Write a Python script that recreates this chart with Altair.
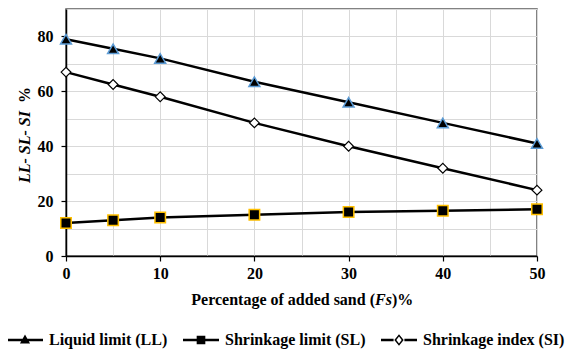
import altair as alt
import pandas as pd

# ---- data ----
fs = [0, 5, 10, 20, 30, 40, 50]
ll = [79, 75.5, 72, 63.5, 56, 48.5, 41]
sl = [12, 13, 14, 15, 16, 16.5, 17]
si = [67, 62.5, 58, 48.5, 40, 32, 24]
series_names = ["Liquid limit (LL)", "Shrinkage limit (SL)", "Shrinkage index (SI)"]
x_ticks = [0, 5, 10, 15, 20, 25, 30, 35, 40, 45, 50]
y_ticks = [0, 10, 20, 30, 40, 50, 60, 70, 80, 90]
x_title_parts = ["Percentage of added sand (", "Fs", ")%"]
y_title_parts = ["LL- SL- SI", "%"]

rows = []
for name, vals in zip(series_names, [ll, sl, si]):
    for x, v in zip(fs, vals):
        rows.append({"series": name, "fs": x, "val": v})
df = pd.DataFrame(rows)

FONT = "Liberation Serif, Times New Roman, DejaVu Serif, serif"
W, H = 471, 247

xenc = alt.X(
    "fs:Q",
    scale=alt.Scale(domain=[0, 50], nice=False),
    axis=alt.Axis(
        values=x_ticks, title=None,
        labelExpr="datum.value % 10 == 0 ? datum.label : ''",
        tickOpacity={"expr": "datum.value % 10 == 0 ? 1 : 0"},
        labelFlush=False, labelOverlap=False, labelPadding=4, tickSize=5,
    ),
)
yenc = alt.Y(
    "val:Q",
    scale=alt.Scale(domain=[0, 90], nice=False),
    axis=alt.Axis(
        values=y_ticks, title=None,
        labelExpr="datum.value % 20 == 0 ? datum.label : ''",
        tickOpacity={"expr": "datum.value % 20 == 0 && datum.value < 90 ? 1 : 0"},
        labelFlush=False, labelOverlap=False, labelPadding=8, tickSize=5,
    ),
)

base = alt.Chart(df).encode(x=xenc, y=yenc)

lines = base.mark_line(color="black", strokeWidth=2.5).encode(detail="series:N")

pts_ll = base.transform_filter(alt.datum.series == series_names[0]).mark_point(
    shape="triangle-up", filled=True, fill="black", stroke="#5b9bd5",
    strokeWidth=1.5, size=120, opacity=1)
pts_sl = base.transform_filter(alt.datum.series == series_names[1]).mark_point(
    shape="square", filled=True, fill="black", stroke="#ffc000",
    strokeWidth=1.5, size=110, opacity=1)
pts_si = base.transform_filter(alt.datum.series == series_names[2]).mark_point(
    shape="diamond", filled=True, fill="white", stroke="black",
    strokeWidth=1.2, size=95, opacity=1)

line_path = "M-1,-0.07H1V0.07H-1Z"
p_ll = line_path + "M0,-0.3L0.28,0.2L-0.28,0.2Z"
p_sl = line_path + "M-0.24,-0.24H0.24V0.24H-0.24Z"
p_si = ("M-1,-0.07H-0.3V0.07H-1Z M0.3,-0.07H1V0.07H0.3Z"
        "M0,-0.32L0.26,0L0,0.32L-0.26,0Z M0,-0.2L-0.15,0L0,0.2L0.15,0Z")

legend_layer = base.mark_point(filled=True, color="black", opacity=0, strokeWidth=0).encode(
    shape=alt.Shape(
        "series:N",
        scale=alt.Scale(domain=series_names, range=[p_ll, p_sl, p_si]),
        legend=alt.Legend(
            title=None, orient="none", legendX=-59, legendY=313,
            direction="horizontal", symbolSize=1296, symbolOpacity=1,
            symbolFillColor="black", symbolStrokeWidth=0,
            labelFont=FONT, labelFontSize=16, labelFontWeight="bold",
            labelColor="black", labelOffset=6, columnPadding=15,
            padding=0, labelLimit=0,
        ),
    )
)

def txt(s, x, y, align, style="normal", angle=0):
    return alt.Chart(pd.DataFrame({"t": [s]})).mark_text(
        font=FONT, fontSize=16, fontWeight="bold", fontStyle=style,
        align=align, baseline="middle", angle=angle, color="black",
    ).encode(x=alt.value(x), y=alt.value(y), text="t:N")

xt1 = txt(x_title_parts[0], 309, 291, "right")
xt2 = txt(x_title_parts[1], 309, 291, "left", "italic")
xt3 = txt(x_title_parts[2], 326, 291, "left")
yt1 = txt(y_title_parts[0], -41, 174, "left", "italic", 270)
yt2 = txt(y_title_parts[1], -41, 94, "left", "normal", 270)

chart = alt.layer(
    lines, pts_sl, pts_si, pts_ll, legend_layer, xt1, xt2, xt3, yt1, yt2
).properties(
    width=W, height=H,
    autosize=alt.AutoSizeParams(type="none"),
    padding={"left": 58, "top": 1, "right": 30, "bottom": 94},
).configure_view(
    stroke="#595959", strokeWidth=1.5
).configure_axis(
    domainColor="black", domainWidth=1.5,
    gridColor="#d9d9d9", gridWidth=1,
    tickColor="black", tickWidth=1.2,
    labelFont=FONT, labelFontSize=16, labelFontWeight="bold", labelColor="black",
)

chart.save("out.html", embed_options={"renderer": "svg", "actions": False})
